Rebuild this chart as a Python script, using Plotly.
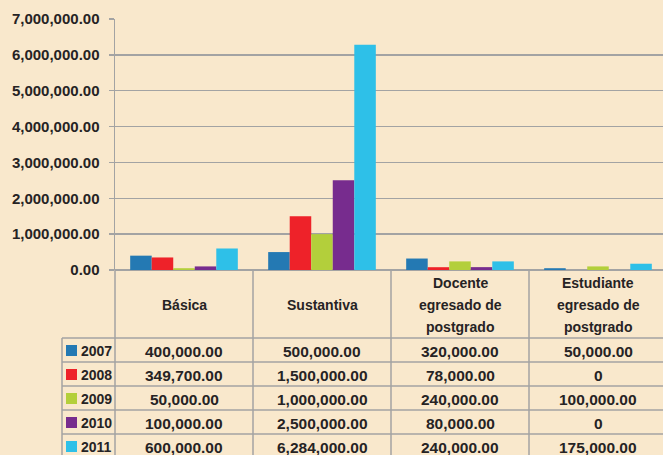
import plotly.graph_objects as go

categories = ["Básica", "Sustantiva", "Docente<br>egresado de<br>postgrado", "Estudiante<br>egresado de<br>postgrado"]
years = ["2007", "2008", "2009", "2010", "2011"]
v2007 = [400000, 500000, 320000, 50000]
v2008 = [349700, 1500000, 78000, 0]
v2009 = [50000, 1000000, 240000, 100000]
v2010 = [100000, 2500000, 80000, 0]
v2011 = [600000, 6284000, 240000, 175000]
series = [v2007, v2008, v2009, v2010, v2011]
colors = ["#2479B3", "#EE2229", "#B3CF3B", "#772C8E", "#2EC0E8"]

W, H = 663, 455
L, T, B = 115, 19, 270          # plot area in pixels
colw = 138
R = W
pw = R - L
ph = B - T
BG = "#F9E8CC"
GRID = "#A3A3A3"
TXT = "#262324"
FONT = "Liberation Sans, Arial, sans-serif"

def px(xp):
    return (xp - L) / pw

def py(yp):
    return (B - yp) / ph

x_idx = list(range(len(categories)))
fig = go.Figure()
for name, vals, c in zip(years, series, colors):
    fig.add_trace(go.Bar(x=x_idx, y=vals, name=name, marker=dict(color=c, line=dict(width=0)),
                         showlegend=False, hoverinfo="skip"))

shapes = []
ann = []
legL = 62
head_bottom = 338
rowh = 24
nrows = len(years)
tbl_bottom = head_bottom + rowh * nrows
line = dict(color=GRID, width=1.5)
for k in range(len(categories) + 1):
    xp = L + k * colw
    shapes.append(dict(type="line", xref="paper", yref="paper", x0=px(xp), x1=px(xp),
                       y0=py(B), y1=py(tbl_bottom + 4), line=line, layer="above"))
shapes.append(dict(type="line", xref="paper", yref="paper", x0=px(legL), x1=px(legL),
                   y0=py(head_bottom), y1=py(tbl_bottom + 4), line=line))
for r in range(nrows + 1):
    yp = head_bottom + r * rowh
    shapes.append(dict(type="line", xref="paper", yref="paper", x0=px(legL), x1=px(W + 10),
                       y0=py(yp), y1=py(yp), line=line))

hfont = dict(family=FONT, size=14, color=TXT, weight="bold")
vfont = dict(family=FONT, size=15.5, color=TXT, weight="bold")
for k, cat in enumerate(categories):
    lines = cat.split("<br>")
    n = len(lines)
    cx = L + (k + 0.5) * colw
    cy = (B + head_bottom) / 2 + 1
    for i, t in enumerate(lines):
        yp = cy + (i - (n - 1) / 2) * 22
        ann.append(dict(xref="paper", yref="paper", x=px(cx), y=py(yp), text=t, showarrow=False,
                        xanchor="center", yanchor="middle", font=hfont))

for r, (name, vals, c) in enumerate(zip(years, series, colors)):
    cy = head_bottom + r * rowh + rowh / 2 + 1
    shapes.append(dict(type="rect", xref="paper", yref="paper", x0=px(66), x1=px(77),
                       y0=py(cy - 6), y1=py(cy + 5), fillcolor=c, line=dict(width=0)))
    ann.append(dict(xref="paper", yref="paper", x=px(79), y=py(cy), text=name, showarrow=False,
                    xanchor="left", yanchor="middle", font=hfont))
    for k, v in enumerate(vals):
        cx = L + (k + 0.5) * colw
        txt = f"{v:,.2f}" if v else "0"
        ann.append(dict(xref="paper", yref="paper", x=px(cx), y=py(cy), text=txt, showarrow=False,
                        xanchor="center", yanchor="middle", font=vfont))

fig.update_layout(
    width=W, height=H,
    margin=dict(l=L, r=W - R, t=T, b=H - B, pad=0),
    paper_bgcolor=BG, plot_bgcolor=BG,
    barmode="group", bargap=0.22, bargroupgap=0,
    shapes=shapes, annotations=ann,
    font=dict(family=FONT, color=TXT),
    hovermode=False,
    xaxis=dict(range=[-0.5, -0.5 + pw / colw], showticklabels=False, showgrid=False,
               zeroline=False, showline=False, ticks="", fixedrange=True),
    yaxis=dict(range=[0, 7000000], dtick=1000000, tickformat=",.2f", showgrid=True,
               gridcolor=GRID, gridwidth=1.5, zeroline=True, zerolinecolor=GRID, zerolinewidth=1.5,
               showline=True, linecolor=GRID, linewidth=1.5, ticks="outside", ticklen=5,
               tickcolor=GRID, tickwidth=1.5, ticklabelstandoff=6, fixedrange=True,
               tickfont=dict(family=FONT, size=15, color=TXT, weight="bold")),
)

fig.write_html(
    "out.html",
    config={"displayModeBar": False, "staticPlot": True},
    post_script="document.body.style.margin='0';document.body.style.background='" + BG + "';"
                "document.documentElement.style.background='" + BG + "';",
)
